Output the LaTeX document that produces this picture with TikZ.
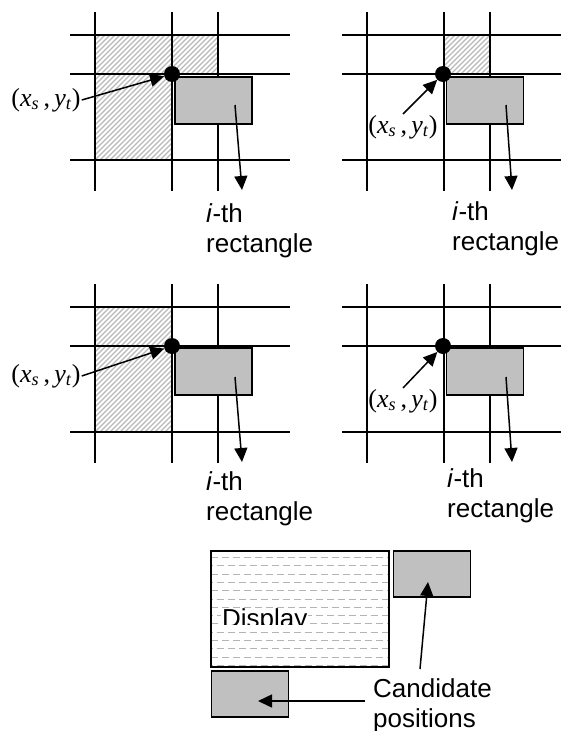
\documentclass[tikz,border=0pt]{standalone}
\usepackage{fontspec}
\setmainfont{Liberation Sans}
\newfontfamily\timesfont{Liberation Serif}
\usetikzlibrary{arrows.meta}

\definecolor{boxgray}{RGB}{192,192,192}
\definecolor{hatchgray}{RGB}{185,185,185}
\definecolor{dashgray}{RGB}{180,180,180}

\newcommand{\xsyt}{\timesfont(\textit{x}\textsubscript{\textit{s}}\,,\,\textit{y}\textsubscript{\textit{t}})}

\begin{document}
\begin{tikzpicture}[x=1pt, y=-1pt,
    gridline/.style={line width=1.8pt},
    hatchline/.style={hatchgray, line width=1.3pt},
    dashline/.style={dashgray, line width=1pt, dash pattern=on 7pt off 4pt},
    rectbox/.style={draw, line width=1.6pt, fill=boxgray, minimum width=77pt, minimum height=47pt, inner sep=0pt},
    cornerdot/.style={circle, fill=black, minimum size=16pt, inner sep=0pt},
    arrow/.style={-{Triangle[length=14pt, width=13pt]}, line width=1.5pt},
    pointlabel/.style={font=\fontsize{26}{28}\selectfont, inner sep=1pt},
    txt/.style={font=\fontsize{26}{30}\selectfont, align=left, anchor=north west, inner sep=0pt}
]
    \useasboundingbox (0,0) rectangle (561,731);

    % Hatched cells
    \begin{scope}
        \clip (95,35) -- (218,35) -- (218,74) -- (172,74) -- (172,160) -- (95,160) -- cycle;
        \foreach \k in {-45,-40,...,220}
            \draw[hatchline] (\k,165) -- ++(135,-135);
    \end{scope}
    \begin{scope}
        \clip (443,35) rectangle (490,74);
        \foreach \k in {395,400,...,495}
            \draw[hatchline] (\k,80) -- ++(50,-50);
    \end{scope}
    \begin{scope}
        \clip (95,307) rectangle (172,432);
        \foreach \k in {-45,-40,...,180}
            \draw[hatchline] (\k,437) -- ++(135,-135);
    \end{scope}

    % Grids
    \foreach \dx/\dy in {0/0, 272/0, 0/272, 272/272} {
        \foreach \x in {95,172,218}
            \draw[gridline] (\x+\dx,12+\dy) -- (\x+\dx,191+\dy);
        \foreach \y in {35,74,160}
            \draw[gridline] (70+\dx,\y+\dy) -- (290+\dx,\y+\dy);
    }

    % Panel 1
    \node[rectbox] (rect1) at (213.5,100.5) {};
    \node[cornerdot] (dot1) at (172,74) {};
    \node[pointlabel] (pt1) at (46,100) {\xsyt};
    \node[txt] (name1) at (206,203) {\textit{i}-th\\rectangle};
    \coordinate (from1) at (235,105);
    \coordinate (to1) at (242,190);

    % Panel 2
    \node[rectbox] (rect2) at (485,100.5) {};
    \node[cornerdot] (dot2) at (443,74) {};
    \node[pointlabel] (pt2) at (403,127) {\xsyt};
    \node[txt] (name2) at (452,201) {\textit{i}-th\\rectangle};
    \coordinate (from2) at (506,105);
    \coordinate (to2) at (512,190);

    % Panel 3
    \node[rectbox] (rect3) at (213.5,371.5) {};
    \node[cornerdot] (dot3) at (172,346) {};
    \node[pointlabel] (pt3) at (46,376) {\xsyt};
    \node[txt] (name3) at (206,471) {\textit{i}-th\\rectangle};
    \coordinate (from3) at (235,377);
    \coordinate (to3) at (242,462);

    % Panel 4
    \node[rectbox] (rect4) at (485,371.5) {};
    \node[cornerdot] (dot4) at (443,346) {};
    \node[pointlabel] (pt4) at (403,401) {\xsyt};
    \node[txt] (name4) at (447,468) {\textit{i}-th\\rectangle};
    \coordinate (from4) at (506,377);
    \coordinate (to4) at (512,462);

    % Arrows
    \draw[arrow] (pt1.east) -- (dot1);
    \draw[arrow] (pt2.north) -- (dot2);
    \draw[arrow] (pt3.east) -- (dot3);
    \draw[arrow] (pt4.north) -- (dot4);
    \draw[arrow] (from1) -- (to1);
    \draw[arrow] (from2) -- (to2);
    \draw[arrow] (from3) -- (to3);
    \draw[arrow] (from4) -- (to4);

    % Display
    \begin{scope}
        \clip (211,551) rectangle (389,667);
        \foreach \r in {0,...,13} {
            \pgfmathsetmacro\yy{557.5+8.3*\r}
            \pgfmathsetmacro\ph{mod(\r,2)*5.5}
            \draw[dashline, dash phase=\ph pt] (211,\yy) -- (389,\yy);
        }
    \end{scope}
    \node[draw, line width=1.6pt, minimum width=178pt, minimum height=116pt, inner sep=0pt] (display) at (300,609) {};
    \begin{scope}
        \clip (219,603) rectangle (312,624);
        \node[fill=white, font=\fontsize{26}{30}\selectfont, anchor=base west, inner sep=1pt] (disptext) at (221,627.5) {Display};
    \end{scope}

    % Candidate positions
    \node[rectbox, minimum height=46pt] (cand1) at (432,574) {};
    \node[rectbox, minimum height=46pt] (cand2) at (250,694) {};
    \node[txt] (candtext) at (373,678) {Candidate\\positions};
    \coordinate (c1from) at (420,669);
    \coordinate (c1to) at (428,582);
    \coordinate (c2from) at (365,701);
    \coordinate (c2to) at (258,701);
    \draw[arrow] (c1from) -- (c1to);
    \draw[arrow] (c2from) -- (c2to);
\end{tikzpicture}
\end{document}
